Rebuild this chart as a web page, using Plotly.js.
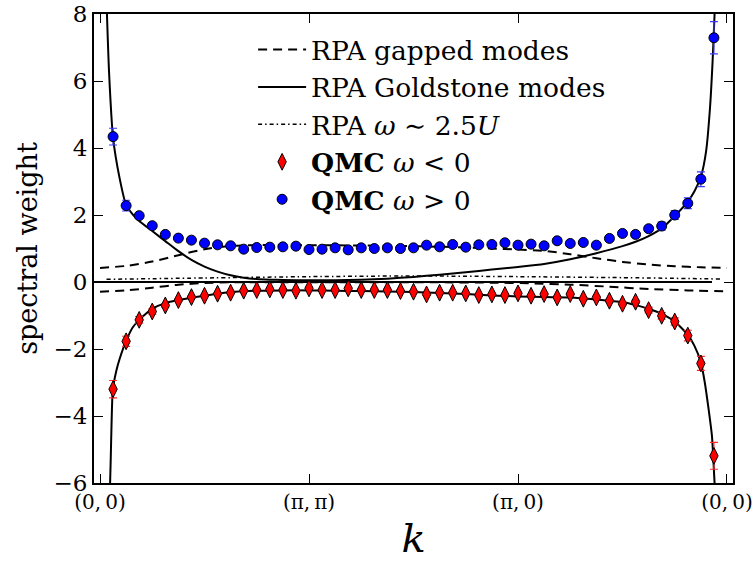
<!DOCTYPE html>
<html>
<head>
<meta charset="utf-8">
<script src="https://cdn.plot.ly/plotly-3.0.1.min.js"></script>
<style>
  html, body { margin: 0; padding: 0; background: #fff; }
  #chart { width: 753px; height: 565px; }
</style>
</head>
<body>
<div id="chart"></div>
<script>
// Momentum path (0,0) -> (pi,pi) -> (pi,0) -> (0,0), 16 steps per segment
const pathTickVals = [0, 16, 32, 48];
const pathTickText = ['(0,\u20090)', '(π,\u2009π)', '(π,\u20090)', '(0,\u20090)'];

// QMC momentum points along the path
const qmcK = [1, 2, 3, 4, 5, 6, 7, 8, 9, 10, 11, 12, 13, 14, 15, 16,
              17, 18, 19, 20, 21, 22, 23, 24, 25, 26, 27, 28, 29, 30, 31, 32,
              33, 34, 35, 36, 37, 38, 39, 40, 41, 42, 43, 44, 45, 46, 47];

// QMC spectral weight, omega > 0
const qmcPos = [4.34, 2.28, 1.98, 1.68, 1.42, 1.31, 1.25, 1.16, 1.11, 1.08, 0.98, 1.03, 1.04, 1.05, 1.07, 0.97,
                0.98, 1.02, 0.96, 1.02, 1.00, 1.02, 1.00, 1.02, 1.10, 1.05, 1.12, 1.04, 1.11, 1.12, 1.17, 1.10,
                1.13, 1.08, 1.23, 1.15, 1.18, 1.10, 1.30, 1.45, 1.42, 1.59, 1.67, 2.00, 2.35, 3.07, 7.29];
const qmcPosErr = [0.25, 0.16, 0.06, 0.04, 0.03, 0.03, 0.03, 0.03, 0.03, 0.03, 0.03, 0.03, 0.03, 0.03, 0.03, 0.03,
                   0.03, 0.03, 0.03, 0.03, 0.03, 0.03, 0.03, 0.03, 0.03, 0.03, 0.03, 0.03, 0.03, 0.03, 0.03, 0.03,
                   0.03, 0.03, 0.03, 0.03, 0.04, 0.04, 0.04, 0.05, 0.05, 0.08, 0.12, 0.13, 0.16, 0.22, 0.48];

// QMC spectral weight, omega < 0
const qmcNeg = [-3.20, -1.77, -1.13, -0.88, -0.70, -0.54, -0.45, -0.41, -0.35, -0.32, -0.26, -0.24, -0.22, -0.24, -0.26, -0.19,
                -0.24, -0.24, -0.19, -0.24, -0.24, -0.24, -0.27, -0.29, -0.37, -0.32, -0.32, -0.34, -0.39, -0.37, -0.39, -0.34,
                -0.41, -0.36, -0.46, -0.36, -0.50, -0.46, -0.56, -0.65, -0.59, -0.84, -1.01, -1.18, -1.60, -2.43, -5.19];
const qmcNegErr = [0.26, 0.15, 0.10, 0.08, 0.05, 0.04, 0.04, 0.03, 0.03, 0.03, 0.03, 0.03, 0.03, 0.03, 0.03, 0.03,
                   0.03, 0.03, 0.03, 0.03, 0.03, 0.03, 0.03, 0.03, 0.03, 0.03, 0.03, 0.03, 0.03, 0.03, 0.03, 0.03,
                   0.03, 0.03, 0.03, 0.03, 0.04, 0.04, 0.04, 0.05, 0.05, 0.08, 0.10, 0.11, 0.16, 0.21, 0.40];

// RPA Goldstone modes, positive branch
const goldUpK = [0.48, 0.7, 1.0, 1.5, 2.0, 2.5, 3.0, 4.0, 5.0, 6.0, 7.0, 8.0, 9.0, 10.0, 11.0, 12.0, 13.0, 14.0,
                 16.0, 18.0, 20.0, 22.0, 24.0, 26.0, 28.0, 30.0, 32.0, 34.0, 36.0, 38.0, 40.0, 41.0, 42.0, 43.0,
                 44.0, 45.0, 45.5, 46.0, 46.4, 46.7, 46.9, 47.05, 47.2];
const goldUpW = [8.6, 6.2, 4.3, 3.1, 2.3, 2.02, 1.82, 1.52, 1.22, 0.92, 0.66, 0.46, 0.31, 0.2, 0.13, 0.09, 0.07, 0.06,
                 0.05, 0.05, 0.07, 0.1, 0.15, 0.22, 0.29, 0.37, 0.45, 0.54, 0.68, 0.86, 1.07, 1.2, 1.37, 1.6,
                 1.97, 2.4, 2.7, 3.14, 3.9, 5.2, 6.6, 8.0, 9.2];

// RPA Goldstone modes, negative branch
const goldDnK = [0.74, 0.82, 0.88, 0.98, 1.25, 1.5, 2.0, 2.5, 3.0, 4.0, 5.0, 6.0, 8.0, 10.0, 12.0, 14.0, 16.0, 18.0, 20.0,
                 22.0, 24.0, 26.0, 28.0, 30.0, 32.0, 34.0, 36.0, 38.0, 40.0, 41.0, 42.0, 43.0, 44.0, 45.0, 45.5,
                 46.0, 46.3, 46.6, 46.85, 47.05, 47.15];
const goldDnW = [-6.5, -5.3, -4.3, -3.22, -2.65, -2.3, -1.76, -1.36, -1.13, -0.8, -0.63, -0.54, -0.41, -0.3, -0.26, -0.25, -0.25, -0.26, -0.27,
                 -0.28, -0.3, -0.33, -0.36, -0.4, -0.43, -0.45, -0.46, -0.52, -0.6, -0.69, -0.8, -0.95, -1.18, -1.58, -1.9,
                 -2.4, -3.0, -3.82, -4.6, -6.0, -6.6];

// Zero-energy Goldstone line
const goldZeroK = [-0.5, 46.85];
const goldZeroW = [0, 0];

// RPA gapped modes
const gapUpK = [0, 2, 4, 6, 8, 10, 12, 16, 20, 24, 28, 30, 32, 34, 36, 38, 40, 42, 44, 46, 48];
const gapUpW = [0.42, 0.48, 0.61, 0.8, 0.98, 1.08, 1.1, 1.1, 1.09, 1.07, 1.03, 1.0, 0.97, 0.93, 0.83, 0.71, 0.6, 0.52, 0.47, 0.44, 0.42];
const gapDnK = [0, 2, 4, 6, 8, 10, 14, 20, 26, 30, 33, 36, 39, 42, 45, 48];
const gapDnW = [-0.29, -0.25, -0.17, -0.08, -0.03, -0.01, -0.005, -0.005, -0.01, -0.02, -0.04, -0.08, -0.14, -0.21, -0.25, -0.28];

// RPA high-energy feature at omega ~ 2.5U
const highK = [0.5, 8, 16, 24, 32, 40, 47.5];
const highW = [0.08, 0.12, 0.16, 0.18, 0.16, 0.13, 0.09];

const serif = 'DejaVu Serif, serif';
const lineStyle = (dash) => ({ color: 'black', width: 2, dash: dash, shape: 'spline', smoothing: 0.6 });

const traces = [
  { x: gapUpK, y: gapUpW, mode: 'lines', name: 'RPA gapped modes', legendgroup: 'gap',
    line: lineStyle('9px,6px') },
  { x: gapDnK, y: gapDnW, mode: 'lines', name: 'RPA gapped modes', legendgroup: 'gap', showlegend: false,
    line: lineStyle('9px,6px') },
  { x: goldUpK, y: goldUpW, mode: 'lines', name: 'RPA Goldstone modes', legendgroup: 'gold',
    line: lineStyle('solid') },
  { x: goldDnK, y: goldDnW, mode: 'lines', name: 'RPA Goldstone modes', legendgroup: 'gold', showlegend: false,
    line: lineStyle('solid') },
  { x: goldZeroK, y: goldZeroW, mode: 'lines', name: 'RPA Goldstone modes', legendgroup: 'gold', showlegend: false,
    line: { color: 'black', width: 2 } },
  { x: highK, y: highW, mode: 'lines', name: 'RPA <i>ω</i> ∼ 2.5<i>U</i>',
    line: { color: 'black', width: 1.5, dash: '4px,3px,1.5px,3px', shape: 'spline', smoothing: 0.6 } },
  { x: qmcK, y: qmcNeg, mode: 'markers', name: '<b>QMC</b> <i>ω</i> &lt; 0',
    marker: { symbol: 'diamond-tall', size: 12, color: '#ff0000', line: { color: 'black', width: 1 } },
    error_y: { type: 'data', array: qmcNegErr, visible: true, color: '#ff2a2a', thickness: 1.2, width: 4 } },
  { x: qmcK, y: qmcPos, mode: 'markers', name: '<b>QMC</b> <i>ω</i> &gt; 0',
    marker: { symbol: 'circle', size: 10, color: '#0000ff', line: { color: 'black', width: 1 } },
    error_y: { type: 'data', array: qmcPosErr, visible: true, color: '#3a3aff', thickness: 1.2, width: 4 } }
];

const axisCommon = {
  showline: true, linecolor: 'black', linewidth: 2, mirror: 'allticks',
  ticks: 'inside', ticklen: 9, tickwidth: 1, tickcolor: 'black',
  showgrid: false, zeroline: false,
  tickfont: { family: serif, size: 23, color: 'black' }
};

const layout = {
  width: 753, height: 565,
  margin: { l: 94, r: 20, t: 14, b: 82 },
  paper_bgcolor: 'white', plot_bgcolor: 'white',
  showlegend: true,
  legend: {
    x: 0.249, y: 0.975, xanchor: 'left', yanchor: 'top',
    bgcolor: 'rgba(0,0,0,0)', borderwidth: 0,
    font: { family: serif, size: 26.5, color: 'black' },
    itemwidth: 48, tracegroupgap: 0
  },
  xaxis: Object.assign({}, axisCommon, {
    range: [-0.46, 48.46],
    tickmode: 'array', tickvals: pathTickVals, ticktext: pathTickText,
    tickfont: { family: serif, size: 20, color: 'black' },
    ticklabeloverflow: 'allow',
    title: { text: '<i>k</i>', font: { family: serif, size: 40, color: 'black' }, standoff: 11 }
  }),
  yaxis: Object.assign({}, axisCommon, {
    range: [-6, 8], tickmode: 'linear', tick0: -6, dtick: 2,
    title: { text: 'spectral weight', font: { family: serif, size: 27, color: 'black' }, standoff: 8 }
  })
};

Plotly.newPlot('chart', traces, layout, { displayModeBar: false, staticPlot: true });
</script>
</body>
</html>
